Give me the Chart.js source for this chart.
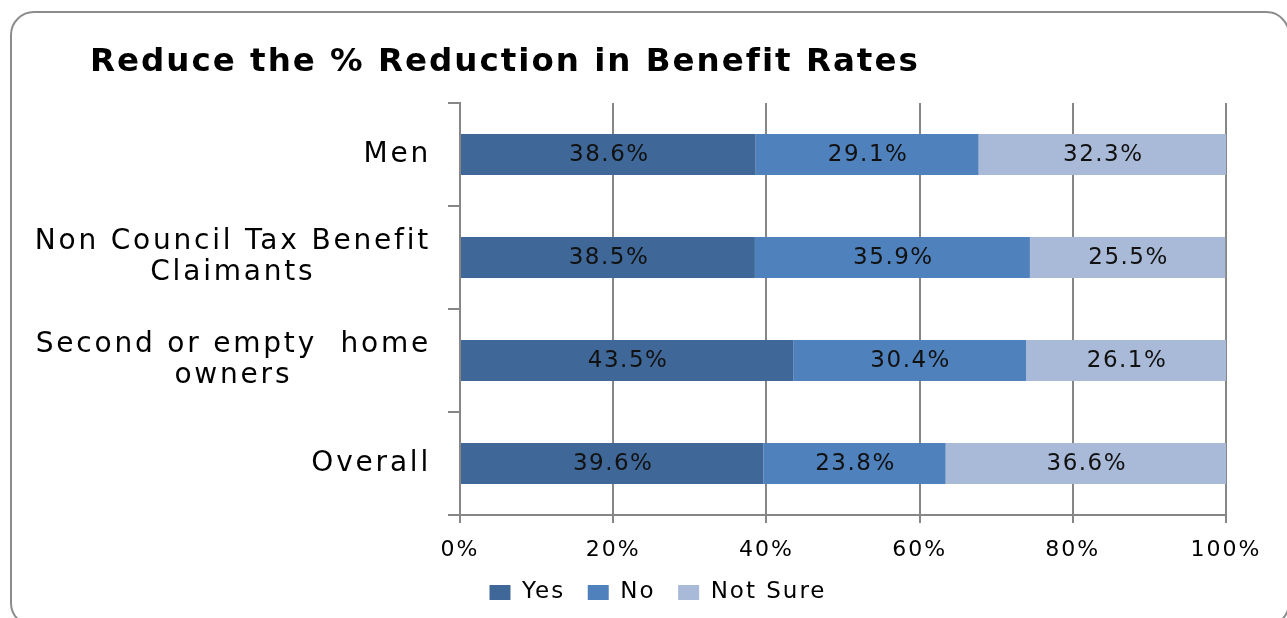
<!DOCTYPE html>
<html>
<head>
<meta charset="utf-8">
<script src="https://cdn.jsdelivr.net/npm/chart.js@4/dist/chart.umd.min.js"></script>
<style>
  html, body { margin: 0; padding: 0; background: #fff; overflow: hidden; }
  #frame {
    position: absolute; left: 10px; top: 11px; width: 1276px; height: 612px;
    border: 2px solid #8c8c8c; border-radius: 24px;
  }
  #wrap { position: absolute; left: 0; top: 0; width: 1287px; height: 618px; }
</style>
</head>
<body>
<div id="frame"></div>
<div id="wrap"><canvas id="chart"></canvas></div>
<script>
const categories = [
  ["Men"],
  ["Non Council Tax Benefit", "Claimants"],
  ["Second or empty  home", "owners"],
  ["Overall"],
];
const seriesNames = ["Yes", "No", "Not Sure"];
const yesValues = [38.6, 38.5, 43.5, 39.6];
const noValues = [29.1, 35.9, 30.4, 23.8];
const notSureValues = [32.3, 25.5, 26.1, 36.6];
const xTicks = [0, 20, 40, 60, 80, 100];

const FONT = "'DejaVu Sans', Verdana, sans-serif";
const gridGrey = "#868686";

// the original text is set wide, so space the letters out a little
const spacingPlugin = {
  id: "spacing",
  beforeLayout(chart) { chart.ctx.letterSpacing = "2px"; },
  beforeDraw(chart) { chart.ctx.letterSpacing = "2px"; },
};

// y labels: block right-aligned, lines centred inside the block
const yLabelPlugin = {
  id: "yLabels",
  afterDraw(chart) {
    const ctx = chart.ctx;
    const y = chart.scales.y;
    ctx.save();
    ctx.font = "28px " + FONT;
    ctx.letterSpacing = "2.8px";
    ctx.fillStyle = "#000";
    ctx.textAlign = "center";
    ctx.textBaseline = "middle";
    chart.data.labels.forEach((lines, i) => {
      const w = Math.max(...lines.map((l) => ctx.measureText(l).width));
      const cx = 431 - w / 2;
      const cy = y.getPixelForValue(i);
      const lh = 31;
      lines.forEach((l, j) => {
        ctx.fillText(l, cx, cy + (j - (lines.length - 1) / 2) * lh);
      });
    });
    ctx.restore();
  },
};

// value labels in the middle of each segment
const valueLabelPlugin = {
  id: "valueLabels",
  afterDatasetsDraw(chart) {
    const ctx = chart.ctx;
    ctx.save();
    ctx.font = "23px " + FONT;
    ctx.letterSpacing = "1.5px";
    ctx.fillStyle = "#111";
    ctx.textAlign = "center";
    ctx.textBaseline = "middle";
    chart.data.datasets.forEach((ds, di) => {
      chart.getDatasetMeta(di).data.forEach((bar, i) => {
        ctx.fillText(ds.data[i].toFixed(1) + "%", (bar.x + bar.base) / 2 + 1, bar.y + 1);
      });
    });
    ctx.restore();
  },
};

const config = {
  type: "bar",
  data: {
    labels: categories,
    datasets: [
      { label: seriesNames[0], data: yesValues, backgroundColor: "#3F6899" },
      { label: seriesNames[1], data: noValues, backgroundColor: "#4F81BD" },
      { label: seriesNames[2], data: notSureValues, backgroundColor: "#A9BAD8" },
    ],
  },
  options: {
    indexAxis: "y",
    responsive: true,
    maintainAspectRatio: false,
    animation: false,
    events: [],
    datasets: {
      bar: { barPercentage: 0.4, categoryPercentage: 1 },
    },
    layout: {
      padding: { left: 90, right: 61, top: 0, bottom: 4 },
    },
    plugins: {
      title: {
        display: true,
        text: "Reduce the % Reduction in Benefit Rates",
        align: "start",
        color: "#000",
        font: { family: FONT, size: 32.5, weight: "bold" },
        padding: { top: 43, bottom: 21 },
      },
      legend: {
        position: "bottom",
        labels: {
          color: "#000",
          font: { family: FONT, size: 23 },
          boxWidth: 21,
          boxHeight: 15,
          padding: 4,
          // wider gaps between entries without a tall legend box
          generateLabels(chart) {
            const items = Chart.defaults.plugins.legend.labels.generateLabels(chart);
            items.forEach((it, i) => { if (i < items.length - 1) it.text += "  "; });
            return items;
          },
        },
      },
      tooltip: { enabled: false },
    },
    scales: {
      x: {
        stacked: true,
        min: 0,
        max: 100,
        afterBuildTicks: (s) => { s.ticks = xTicks.map((v) => ({ value: v })); },
        ticks: {
          color: "#000",
          font: { family: FONT, size: 22, lineHeight: 1 },
          padding: 16,
          callback: (v) => v + "%",
        },
        grid: { color: gridGrey, lineWidth: 2, tickLength: 8 },
        border: { color: gridGrey, width: 2 },
      },
      y: {
        stacked: true,
        afterFit: (s) => { s.width = 370; },
        ticks: { display: false },
        grid: {
          offset: true,
          drawOnChartArea: false,
          color: gridGrey,
          lineWidth: 2,
          tickLength: 12,
        },
        border: { color: gridGrey, width: 2 },
      },
    },
  },
  plugins: [spacingPlugin, yLabelPlugin, valueLabelPlugin],
};

new Chart(document.getElementById("chart"), config);
</script>
</body>
</html>
